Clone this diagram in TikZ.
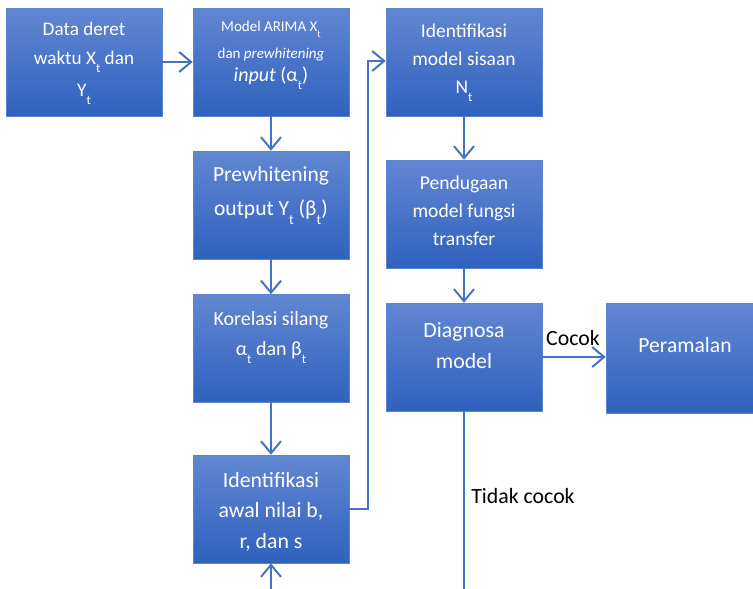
\documentclass[tikz,border=0pt]{standalone}
\usepackage{fontspec}
\setmainfont{Carlito}
\usetikzlibrary{arrows.meta,calc}
\definecolor{lineblue}{RGB}{68,114,196}
\definecolor{boxtop}{RGB}{98,135,210}
\definecolor{boxbot}{RGB}{47,97,190}
\definecolor{boxedge}{RGB}{92,132,210}
\newcommand\subt[1][13]{\raisebox{-0.42em}{\fontsize{#1}{#1}\selectfont t}}
\begin{document}
\begin{tikzpicture}[x=1pt,y=-1pt,
 box/.style={draw=boxedge,line width=0.6pt,top color=boxtop,bottom color=boxbot,minimum width=156pt,minimum height=108pt,inner sep=0pt},
 txt/.style={text=white,align=center,inner sep=0pt,anchor=base},
 lbl/.style={text=black,inner sep=0pt,anchor=base,font=\fontsize{21.8}{26}\selectfont},
 conn/.style={draw=lineblue,line width=2pt,-{Straight Barb[length=12pt,width=20pt]}},
 plain/.style={draw=lineblue,line width=2pt}]
\useasboundingbox (0,0) rectangle (753,589);
\node[box] (b1) at (84,62) {};
\node[box] (b2) at (271,62) {};
\node[box] (b3) at (271,205) {};
\node[box] (b4) at (271,348.5) {};
\node[box] (b5) at (271,509) {};
\node[box] (b6) at (464,62) {};
\node[box] (b7) at (464,214) {};
\node[box] (b8) at (464,357) {};
\node[box,minimum height=110pt] (b9) at (684,358) {};
\node[txt,font=\fontsize{19.2}{28.6}\selectfont] (t1) at (84,96.7) {Data deret\\waktu X\subt{} dan\\[3.8pt]Y\subt};
\node[txt,font=\fontsize{15}{27}\selectfont] (t2) at (271,81) {Model ARIMA X\subt[10]\\dan \textit{prewhitening}\\[-4pt]{\fontsize{20}{22}\selectfont\textit{input} (α\subt)}};
\node[txt,font=\fontsize{21.5}{34}\selectfont] (t3) at (271,215) {Prewhitening\\output Y\subt[14]{} (β\subt[14])};
\node[txt,font=\fontsize{20}{30}\selectfont] (t4) at (271,355) {Korelasi silang\\α\subt{} dan β\subt};
\node[txt,font=\fontsize{21.8}{30.5}\selectfont] (t5) at (271,548) {Identifikasi\\awal nilai b,\\r, dan s};
\node[txt,font=\fontsize{19.5}{28}\selectfont] (t6) at (464,93) {Identifikasi\\model sisaan\\N\subt};
\node[txt,font=\fontsize{19.6}{28}\selectfont] (t7) at (464,245) {Pendugaan\\model fungsi\\transfer};
\node[txt,font=\fontsize{21.8}{31}\selectfont] (t8) at (464,368) {Diagnosa\\model};
\node[txt,font=\fontsize{21.6}{31}\selectfont] (t9) at (685,352) {Peramalan};
\node[lbl] (l1) at (573,345) {Cocok};
\node[lbl] (l2) at (523,503) {Tidak cocok};
\coordinate (c1) at (368,61);
\coordinate (c3) at (464,595);
\coordinate (c4) at (271,595);
\draw[conn] (b1.east) -- (b2.west);
\draw[conn] (b2.south) -- (b3.north);
\draw[conn] (b3.south) -- (b4.north);
\draw[conn] (b4.south) -- (b5.north);
\draw[conn] (b5.east) -| (c1) -- (b6.west |- c1);
\draw[conn] (b6.south) -- (b7.north);
\draw[conn] (b7.south) -- (b8.north);
\draw[conn] (b8.east) -- (b8.east -| b9.west);
\draw[plain] (b8.south) -- (c3);
\draw[conn] (c4) -- (b5.south);
\end{tikzpicture}
\end{document}
